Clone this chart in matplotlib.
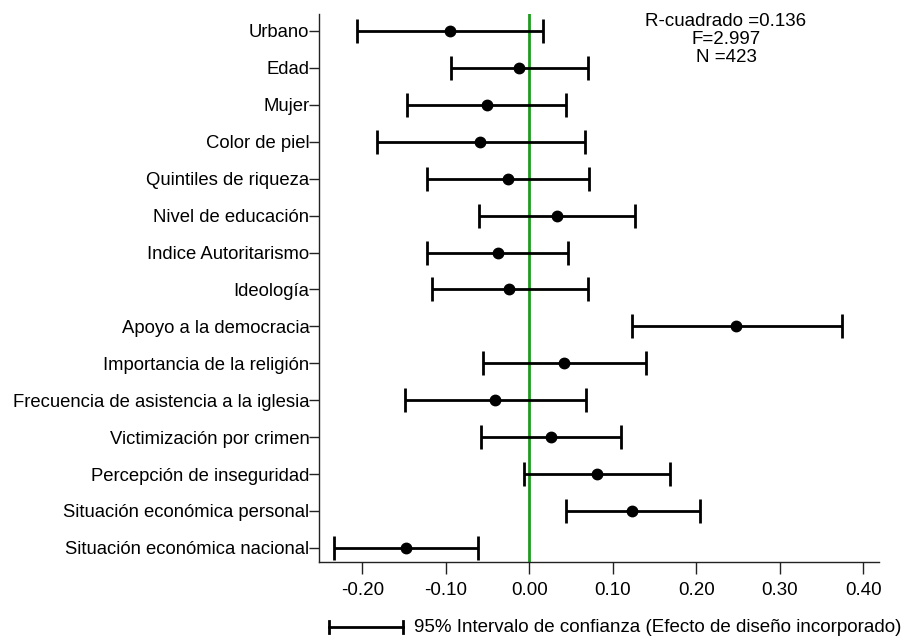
import matplotlib
matplotlib.use("Agg")
import matplotlib.pyplot as plt
from matplotlib.lines import Line2D

plt.rcParams['font.family'] = ['Liberation Sans', 'DejaVu Sans']

# Regression coefficients with 95% confidence bounds
variables = [
    "Urbano",
    "Edad",
    "Mujer",
    "Color de piel",
    "Quintiles de riqueza",
    "Nivel de educación",
    "Indice Autoritarismo",
    "Ideología",
    "Apoyo a la democracia",
    "Importancia de la religión",
    "Frecuencia de asistencia a la iglesia",
    "Victimización por crimen",
    "Percepción de inseguridad",
    "Situación económica personal",
    "Situación económica nacional",
]
coef = [-0.095, -0.012, -0.051, -0.059, -0.026, 0.033, -0.038, -0.024,
        0.247, 0.042, -0.041, 0.026, 0.081, 0.123, -0.148]
ci_low = [-0.206, -0.094, -0.146, -0.182, -0.122, -0.060, -0.123, -0.117,
          0.123, -0.055, -0.149, -0.058, -0.006, 0.044, -0.234]
ci_high = [0.016, 0.070, 0.044, 0.067, 0.071, 0.127, 0.046, 0.070,
           0.374, 0.140, 0.068, 0.110, 0.169, 0.205, -0.061]

x_ticks = [-0.20, -0.10, 0.00, 0.10, 0.20, 0.30, 0.40]
stats_text = ["R-cuadrado =0.136", "F=2.997", "N =423"]
legend_text = "95% Intervalo de confianza (Efecto de diseño incorporado)"

FS = 13.5

fig = plt.figure(figsize=(9.07, 6.39), dpi=100)
ax = fig.add_axes([319 / 907, 1 - 562.3 / 639, (879 - 319) / 907, (562.3 - 14) / 639])

ypos = list(range(len(variables)))
err_lo = [c - l for c, l in zip(coef, ci_low)]
err_hi = [h - c for c, h in zip(coef, ci_high)]

ax.axvline(0, color="#1f9a1f", lw=2.0, zorder=1)
ax.errorbar(coef, ypos, xerr=[err_lo, err_hi], fmt="o", color="black",
            ecolor="black", elinewidth=2.0, capsize=8.5, capthick=2.0,
            markersize=7.5, zorder=3)

ax.set_xlim(-0.2519, 0.4188)
ax.set_ylim(14.39, -0.46)
ax.set_xticks(x_ticks)
ax.set_xticklabels([f"{t:.2f}" for t in x_ticks])
ax.set_yticks(ypos)
ax.set_yticklabels(variables)

for side in ("top", "right"):
    ax.spines[side].set_visible(False)
for side in ("left", "bottom"):
    ax.spines[side].set_color("#222222")
    ax.spines[side].set_linewidth(1.0)

ax.tick_params(axis="x", length=8.5, width=1.0, color="#222222", pad=6,
               labelsize=FS, labelcolor="black")
ax.tick_params(axis="y", length=7, width=1.0, color="#222222", pad=0,
               labelsize=13.3, labelcolor="black")

# Model summary statistics
for i, s in enumerate(stats_text):
    fig.text(726 / 907, 1 - (21 + 18.5 * i) / 639, s, ha="center", va="center",
             fontsize=FS, color="black")

# Confidence-interval key under the axis
ly = 1 - 627 / 639
x0, x1 = 329 / 907, 403 / 907
cap = 6 / 639
fig.add_artist(Line2D([x0, x1], [ly, ly], color="black", lw=2.0, transform=fig.transFigure))
for xx in (x0, x1):
    fig.add_artist(Line2D([xx, xx], [ly - cap, ly + cap], color="black", lw=2.0,
                          transform=fig.transFigure))
fig.text(414 / 907, ly, legend_text, ha="left", va="center", fontsize=FS,
         color="black")

fig.savefig("out.png", dpi=100)
